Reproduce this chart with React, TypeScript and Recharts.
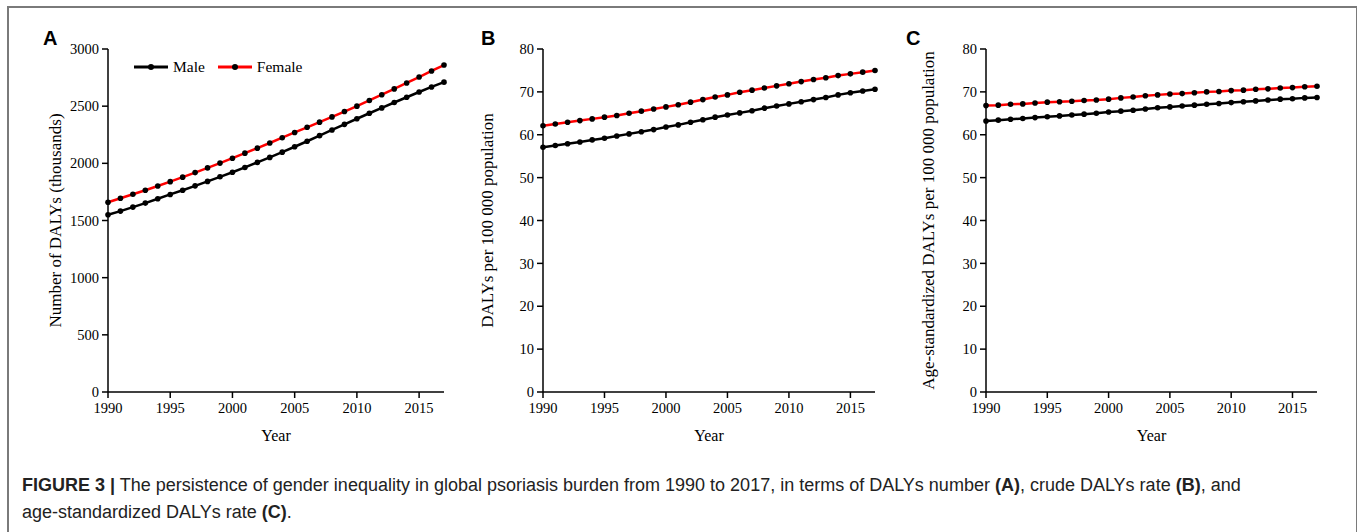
import React from "react";
import { LineChart, Line, XAxis, YAxis } from "recharts";

const years = [
  1990, 1991, 1992, 1993, 1994, 1995, 1996, 1997, 1998, 1999, 2000, 2001, 2002, 2003,
  2004, 2005, 2006, 2007, 2008, 2009, 2010, 2011, 2012, 2013, 2014, 2015, 2016, 2017,
];

// A: number of DALYs (thousands)
const maleCount = [
  1550, 1582, 1617, 1652, 1690, 1728, 1765, 1803, 1842, 1882, 1922, 1964, 2008, 2052,
  2098, 2145, 2193, 2242, 2292, 2341, 2390, 2438, 2485, 2532, 2578, 2624, 2668, 2710,
];
const femaleCount = [
  1660, 1695, 1730, 1765, 1802, 1840, 1879, 1919, 1960, 2002, 2045, 2089, 2133, 2178,
  2224, 2270, 2315, 2360, 2406, 2453, 2500, 2550, 2600, 2651, 2703, 2755, 2808, 2860,
];

// B: crude DALYs per 100 000
const maleCrude = [
  57.1, 57.5, 57.9, 58.3, 58.8, 59.2, 59.7, 60.2, 60.7, 61.2, 61.8, 62.3, 62.9, 63.5,
  64.1, 64.6, 65.1, 65.6, 66.2, 66.7, 67.2, 67.7, 68.2, 68.7, 69.3, 69.8, 70.2, 70.6,
];
const femaleCrude = [
  62.1, 62.5, 62.9, 63.3, 63.7, 64.1, 64.5, 65.0, 65.5, 66.0, 66.5, 67.0, 67.6, 68.2,
  68.8, 69.3, 69.9, 70.4, 70.9, 71.4, 71.9, 72.4, 72.9, 73.3, 73.8, 74.2, 74.6, 75.0,
];

// C: age-standardized DALYs per 100 000
const maleAge = [
  63.2, 63.4, 63.6, 63.8, 64.0, 64.2, 64.4, 64.6, 64.8, 65.0, 65.3, 65.5, 65.7, 66.0,
  66.3, 66.5, 66.7, 66.9, 67.1, 67.3, 67.5, 67.7, 67.9, 68.1, 68.3, 68.4, 68.6, 68.7,
];
const femaleAge = [
  66.8, 66.9, 67.1, 67.2, 67.4, 67.6, 67.7, 67.8, 68.0, 68.1, 68.3, 68.6, 68.8, 69.1,
  69.3, 69.5, 69.6, 69.8, 70.0, 70.1, 70.3, 70.4, 70.6, 70.7, 70.9, 71.0, 71.2, 71.3,
];

const xTicks = [1990, 1995, 2000, 2005, 2010, 2015];
const countTicks = [0, 500, 1000, 1500, 2000, 2500, 3000];
const rateTicks = [0, 10, 20, 30, 40, 50, 60, 70, 80];

const SERIF = '"Liberation Serif", "Times New Roman", serif';
const SANS = '"Liberation Sans", Arial, sans-serif';
const tick = { fill: "#000", fontSize: 14.5, fontFamily: SERIF };

const buildRows = (male: number[], female: number[]) =>
  years.map((y, i) => ({ year: y, male: male[i], female: female[i] }));

function SexLegend() {
  const item = (color: string, label: string, gap: number) => (
    <div style={{ display: "flex", alignItems: "center", marginRight: gap }}>
      <svg width={34} height={8}>
        <line x1={0} y1={4} x2={34} y2={4} stroke={color} strokeWidth={3} />
        <circle cx={17} cy={4} r={3} fill="#000" />
      </svg>
      <span style={{ marginLeft: 5, fontFamily: SERIF, fontSize: 15.5, color: "#000" }}>{label}</span>
    </div>
  );
  return (
    <div style={{ position: "absolute", left: 134, top: 58, display: "flex" }}>
      {item("#000", "Male", 13)}
      {item("#ff0000", "Female", 0)}
    </div>
  );
}

interface PanelProps {
  left: number;
  width: number;
  marginLeft: number;
  marginRight: number;
  rows: { year: number; male: number; female: number }[];
  yTicks: number[];
  yMax: number;
  yLabel: string;
  yLabelOffset: number;
  letter: string;
  letterX: number;
}

function Panel(p: PanelProps) {
  return (
    <>
      <div
        style={{
          position: "absolute",
          left: p.letterX,
          top: 27,
          fontFamily: SANS,
          fontWeight: 700,
          fontSize: 20,
          color: "#000",
        }}
      >
        {p.letter}
      </div>
      <div style={{ position: "absolute", left: p.left, top: 0 }}>
        <LineChart
          width={p.width}
          height={460}
          data={p.rows}
          margin={{ top: 49, right: p.marginRight, bottom: 38, left: p.marginLeft }}
          style={{ fontFamily: SERIF }}
        >
          <XAxis
            dataKey="year"
            type="number"
            domain={[1990, 2017]}
            ticks={xTicks}
            tick={tick}
            tickSize={6}
            tickMargin={5}
            height={30}
            stroke="#000"
            strokeWidth={1.5}
            label={{ value: "Year", position: "bottom", offset: 8, fill: "#000", fontSize: 16, fontFamily: SERIF }}
          />
          <YAxis
            type="number"
            domain={[0, p.yMax]}
            ticks={p.yTicks}
            tick={tick}
            tickSize={6}
            tickMargin={3}
            width={60}
            stroke="#000"
            strokeWidth={1.5}
            label={{
              value: p.yLabel,
              angle: -90,
              position: "insideLeft",
              offset: p.yLabelOffset,
              fill: "#000",
              fontSize: 17,
              fontFamily: SERIF,
              style: { textAnchor: "middle" },
            }}
          />
          <Line
            dataKey="male"
            name="Male"
            stroke="#000"
            strokeWidth={2.5}
            dot={{ r: 2.8, fill: "#000", stroke: "none" }}
            activeDot={false}
            isAnimationActive={false}
          />
          <Line
            dataKey="female"
            name="Female"
            stroke="#ff0000"
            strokeWidth={2.5}
            dot={{ r: 2.8, fill: "#000", stroke: "none" }}
            activeDot={false}
            isAnimationActive={false}
          />
        </LineChart>
      </div>
    </>
  );
}

export default function App() {
  return (
    <div
      style={{
        position: "absolute",
        left: 0,
        top: 0,
        width: 1357,
        height: 532,
        overflow: "hidden",
        background: "#fff",
      }}
    >
      <div
        style={{
          position: "absolute",
          left: 7,
          top: 6,
          width: 1347,
          height: 540,
          border: "2px solid #7a7a7a",
        }}
      />
      <Panel
        left={0}
        width={460}
        marginLeft={48}
        marginRight={16}
        rows={buildRows(maleCount, femaleCount)}
        yTicks={countTicks}
        yMax={3000}
        yLabel="Number of DALYs (thousands)"
        yLabelOffset={7}
        letter="A"
        letterX={43}
      />
      <SexLegend />
      <Panel
        left={460}
        width={440}
        marginLeft={23}
        marginRight={25}
        rows={buildRows(maleCrude, femaleCrude)}
        yTicks={rateTicks}
        yMax={80}
        yLabel="DALYs per 100 000 population"
        yLabelOffset={4}
        letter="B"
        letterX={481}
      />
      <Panel
        left={900}
        width={457}
        marginLeft={26}
        marginRight={40}
        rows={buildRows(maleAge, femaleAge)}
        yTicks={rateTicks}
        yMax={80}
        yLabel="Age-standardized DALYs per 100 000 population"
        yLabelOffset={2}
        letter="C"
        letterX={906}
      />
      <div
        style={{
          position: "absolute",
          left: 22,
          top: 472,
          fontFamily: SANS,
          fontSize: 18,
          lineHeight: "27px",
          color: "#222",
          whiteSpace: "nowrap",
        }}
      >
        <b>FIGURE 3 |</b> The persistence of gender inequality in global psoriasis burden from 1990 to 2017, in
        terms of DALYs number <b>(A)</b>, crude DALYs rate <b>(B)</b>, and
        <br />
        age-standardized DALYs rate <b>(C)</b>.
      </div>
    </div>
  );
}
